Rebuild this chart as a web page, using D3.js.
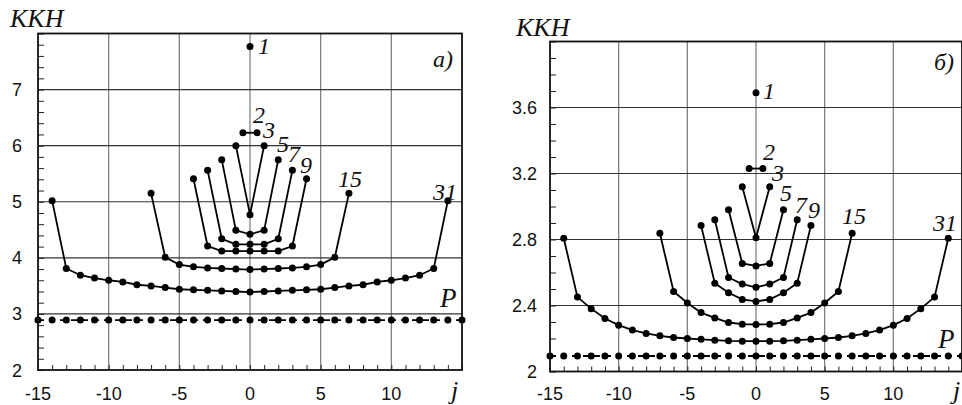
<!DOCTYPE html>
<html>
<head>
<meta charset="utf-8">
<script src="https://cdn.jsdelivr.net/npm/d3@7"></script>
<style>
  html, body { margin: 0; padding: 0; background: #fff; }
  svg { display: block; }
</style>
</head>
<body>
<svg id="chart" width="962" height="405"></svg>
<script>
// ---- panel a) values (index runs over j, centred on 0) ----
const kkhA1 = [7.77];
const kkhA2 = [6.23, 6.23];
const kkhA3 = [6.0, 4.77, 6.0];
const kkhA5 = [5.75, 4.49, 4.42, 4.49, 5.75];
const kkhA7 = [5.56, 4.34, 4.24, 4.24, 4.24, 4.34, 5.56];
const kkhA9 = [5.41, 4.21, 4.12, 4.12, 4.12, 4.12, 4.12, 4.21, 5.41];
const kkhA15 = [5.15, 4.01, 3.88, 3.84, 3.82, 3.81, 3.80, 3.79, 3.80, 3.81, 3.82, 3.84, 3.88, 4.01, 5.15];
const kkhA31 = [5.02, 3.81, 3.69, 3.64, 3.60, 3.57, 3.52, 3.50, 3.47, 3.44, 3.43, 3.42, 3.41, 3.40, 3.39,
                3.40, 3.41, 3.42, 3.43, 3.44, 3.47, 3.50, 3.52, 3.57, 3.60, 3.64, 3.69, 3.81, 5.02];
const pA = [2.89, 2.89, 2.89, 2.89, 2.89, 2.89, 2.89, 2.89, 2.89, 2.89, 2.89, 2.89, 2.89, 2.89, 2.89, 2.89,
            2.89, 2.89, 2.89, 2.89, 2.89, 2.89, 2.89, 2.89, 2.89, 2.89, 2.89, 2.89, 2.89, 2.89, 2.89];

// ---- panel б) values ----
const kkhB1 = [3.69];
const kkhB2 = [3.23, 3.23];
const kkhB3 = [3.12, 2.81, 3.12];
const kkhB5 = [2.98, 2.655, 2.64, 2.655, 2.98];
const kkhB7 = [2.92, 2.57, 2.53, 2.51, 2.53, 2.57, 2.92];
const kkhB9 = [2.885, 2.535, 2.477, 2.437, 2.425, 2.437, 2.477, 2.535, 2.885];
const kkhB15 = [2.838, 2.485, 2.415, 2.357, 2.325, 2.297, 2.287, 2.285, 2.287, 2.297, 2.325, 2.357, 2.415, 2.485, 2.838];
const kkhB31 = [2.808, 2.451, 2.381, 2.321, 2.281, 2.251, 2.231, 2.216, 2.206, 2.200, 2.195, 2.190, 2.186, 2.184, 2.184,
                2.184, 2.186, 2.190, 2.195, 2.200, 2.206, 2.216, 2.231, 2.251, 2.281, 2.321, 2.381, 2.451, 2.808];
const pB = [2.094, 2.094, 2.094, 2.094, 2.094, 2.094, 2.094, 2.094, 2.094, 2.094, 2.094, 2.094, 2.094, 2.094, 2.094, 2.094,
            2.094, 2.094, 2.094, 2.094, 2.094, 2.094, 2.094, 2.094, 2.094, 2.094, 2.094, 2.094, 2.094, 2.094, 2.094];

// ---- tick labels ----
const xTicks = [-15, -10, -5, 0, 5, 10];
const yTicksA = [2, 3, 4, 5, 6, 7];
const yTicksB = [2, 2.4, 2.8, 3.2, 3.6];

// ---- curve labels [text, j, value] ----
const labelsA = [["1", 0.57, 7.63], ["2", 0.21, 6.40], ["3", 0.92, 6.13], ["5", 1.91, 5.88],
                 ["7", 2.69, 5.70], ["9", 3.54, 5.51], ["15", 6.23, 5.26], ["31", 12.95, 5.03], ["P", 13.45, 3.12]];
const labelsB = [["1", 0.51, 3.651], ["2", 0.51, 3.284], ["3", 1.17, 3.152], ["5", 1.75, 3.032],
                 ["7", 2.84, 2.96], ["9", 3.79, 2.93], ["15", 6.26, 2.894], ["31", 12.89, 2.852], ["P", 13.26, 2.142]];

const SERIF = '"Liberation Serif", "Times New Roman", serif';
const SANS = '"Liberation Sans", Arial, sans-serif';

const svg = d3.select('#chart');

const italic = (sel, size) => sel
    .style('font-family', SERIF).style('font-style', 'italic')
    .style('font-size', size + 'px').attr('fill', '#111');

const drawPanel = (cfg) => {
    const x = d3.scaleLinear().domain([-15, 15]).range(cfg.xRange);
    const y = d3.scaleLinear().domain(cfg.yDomain).range(cfg.yRange);
    const [x0, x1] = cfg.xRange;
    const [yb, yt] = cfg.yRange;
    const g = svg.append('g');

    // grid
    g.selectAll('line.vg').data([-10, -5, 0, 5, 10]).join('line')
        .attr('x1', d => x(d)).attr('x2', d => x(d)).attr('y1', yb).attr('y2', yt)
        .attr('stroke', '#777').attr('stroke-width', 1.2);
    g.selectAll('line.hg').data(cfg.yGrid).join('line')
        .attr('x1', x0).attr('x2', x1).attr('y1', d => y(d)).attr('y2', d => y(d))
        .attr('stroke', '#333').attr('stroke-width', 1.2);

    // minor ticks pointing inwards
    const xAxis = d3.axisBottom(x).tickValues(d3.range(-15, 16)).tickSize(-5).tickFormat('');
    const xg = g.append('g').attr('transform', `translate(0,${yb})`).call(xAxis);
    xg.select('.domain').remove();
    xg.selectAll('line').attr('stroke', '#222');
    const yAxis = d3.axisLeft(y).tickValues(cfg.yMinor).tickSize(-6).tickFormat('');
    const yg = g.append('g').attr('transform', `translate(${x0},0)`).call(yAxis);
    yg.select('.domain').remove();
    yg.selectAll('line').attr('stroke', '#222');

    // tick labels
    g.selectAll('text.xl').data(xTicks).join('text')
        .style('font-family', SANS).style('font-size', '18px').attr('fill', '#111')
        .attr('x', d => x(d)).attr('y', 400)
        .attr('text-anchor', 'middle').text(d => d);
    g.selectAll('text.yl').data(cfg.yTicks).join('text')
        .style('font-family', SANS).style('font-size', '18px').attr('fill', '#111')
        .attr('x', x0 - cfg.yLabelGap).attr('y', d => y(d) + 6.5)
        .attr('text-anchor', 'end').text(d => d);

    // P: dashed line with dots
    const line = d3.line().x(d => x(d.j)).y(d => y(d.v));
    const toPts = arr => arr.map((v, i) => ({ j: i - (arr.length - 1) / 2, v }));
    const pPts = toPts(cfg.p);
    g.append('path').attr('d', line(pPts)).attr('fill', 'none')
        .attr('stroke', '#000').attr('stroke-width', 1.8).attr('stroke-dasharray', '6,5');
    g.selectAll('circle.p').data(pPts).join('circle')
        .attr('cx', d => x(d.j)).attr('cy', d => y(d.v)).attr('r', 3.5).attr('fill', '#000');

    // KKH series
    cfg.series.forEach(arr => {
        const pts = toPts(arr);
        g.append('path').attr('d', line(pts)).attr('fill', 'none')
            .attr('stroke', '#000').attr('stroke-width', 1.8);
        g.selectAll(null).data(pts).join('circle')
            .attr('cx', d => x(d.j)).attr('cy', d => y(d.v)).attr('r', 3.5).attr('fill', '#000');
    });

    // frame
    g.append('rect').attr('x', x0).attr('y', yt).attr('width', x1 - x0).attr('height', yb - yt)
        .attr('fill', 'none').attr('stroke', '#111').attr('stroke-width', 1.8);

    // curve labels
    g.selectAll('text.cl').data(cfg.labels).join('text')
        .call(italic, 24)
        .style('font-size', d => d[0] === 'P' ? '27px' : '24px')
        .attr('x', d => x(d[1])).attr('y', d => y(d[2])).text(d => d[0]);

    // titles
    g.append('text').call(italic, 26)
        .attr('x', cfg.kkhPos[0]).attr('y', cfg.kkhPos[1]).text('KKH');
    g.append('text').call(italic, 24)
        .attr('x', cfg.tagPos[0]).attr('y', cfg.tagPos[1]).text(cfg.tag);
    g.append('text').call(italic, 26)
        .attr('x', cfg.jPos).attr('y', 399).text('j');
};

drawPanel({
    xRange: [38, 462], yDomain: [2, 8], yRange: [370, 33.5],
    yGrid: [3, 4, 5, 6, 7], yMinor: d3.range(2, 8.01, 0.2), yTicks: yTicksA, yLabelGap: 16,
    series: [kkhA1, kkhA2, kkhA3, kkhA5, kkhA7, kkhA9, kkhA15, kkhA31], p: pA,
    labels: labelsA, kkhPos: [10, 27], tag: 'a)', tagPos: [433, 67], jPos: 451
});

drawPanel({
    xRange: [550, 962], yDomain: [2, 4], yRange: [371.5, 41.5],
    yGrid: [2.4, 2.8, 3.2, 3.6], yMinor: d3.range(2, 4.01, 0.1), yTicks: yTicksB, yLabelGap: 13,
    series: [kkhB1, kkhB2, kkhB3, kkhB5, kkhB7, kkhB9, kkhB15, kkhB31], p: pB,
    labels: labelsB, kkhPos: [516, 36], tag: 'б)', tagPos: [934, 70], jPos: 953
});
</script>
</body>
</html>
